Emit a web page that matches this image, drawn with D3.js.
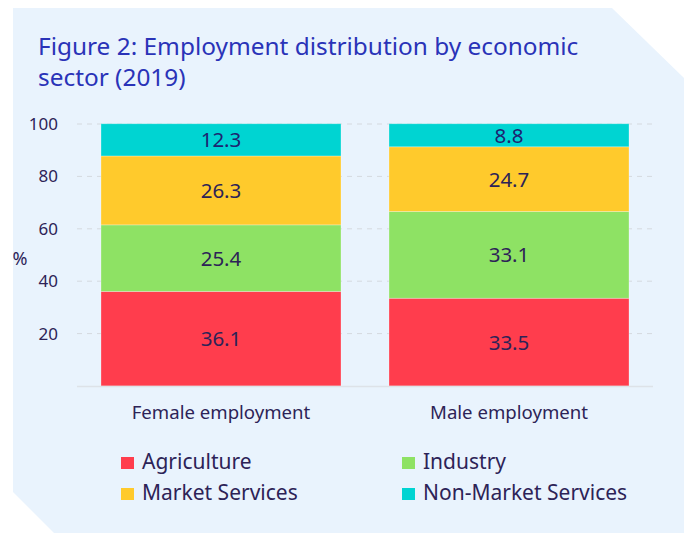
<!DOCTYPE html>
<html>
<head>
<meta charset="utf-8">
<script src="https://cdn.jsdelivr.net/npm/d3@7"></script>
<style>
  html, body { margin: 0; padding: 0; background: #fff; }
  svg { display: block; font-family: "Noto Sans", "Open Sans", sans-serif; }
</style>
</head>
<body>
<div id="chart"></div>
<script>
const groups = ["Female employment", "Male employment"];
const sectors = ["Agriculture", "Industry", "Market Services", "Non-Market Services"];
const agriculture = [36.1, 33.5];
const industry = [25.4, 33.1];
const marketServices = [26.3, 24.7];
const nonMarketServices = [12.3, 8.8];
const yTicks = [20, 40, 60, 80, 100];
const colors = ["#ff3d4d", "#8ee264", "#ffca2c", "#00d4d2"];

const W = 684, H = 533;
const svg = d3.select("#chart").append("svg").attr("width", W).attr("height", H);

// panel with cut corners
svg.append("path")
  .attr("d", `M13,8 L612,8 L684,78 L684,533 L54,533 L13,492 Z`)
  .attr("fill", "#e9f3fd");

svg.append("text").attr("x", 38).attr("y", 55)
  .attr("fill", "#2a33b8").attr("font-size", 24.4)
  .text("Figure 2: Employment distribution by economic");
svg.append("text").attr("x", 38).attr("y", 86)
  .attr("fill", "#2a33b8").attr("font-size", 24.4)
  .text("sector (2019)");

const m = { l: 77, r: 653, t: 124, b: 386 };
const x = d3.scaleBand().domain(groups).range([m.l, m.r])
  .paddingInner(1 / 6).paddingOuter(1 / 12);
const y = d3.scaleLinear().domain([0, 100]).range([m.b, m.t]);

// grid
svg.append("g").selectAll("line").data(yTicks).join("line")
  .attr("x1", m.l).attr("x2", m.r)
  .attr("y1", d => y(d)).attr("y2", d => y(d))
  .attr("stroke", "#d4d9df").attr("stroke-dasharray", "5,5").attr("stroke-width", 1);

svg.append("g").selectAll("text").data(yTicks).join("text")
  .attr("x", 58).attr("y", d => y(d) + 6)
  .attr("text-anchor", "end").attr("font-size", 17).attr("fill", "#2d2357")
  .text(d => d);

svg.append("text").attr("x", 20).attr("y", 265).attr("text-anchor", "middle")
  .attr("font-size", 18).attr("fill", "#2d2357").text("%");

const series = [agriculture, industry, marketServices, nonMarketServices];
const stacked = groups.map((g, i) => {
  let acc = 0;
  return series.map((s, k) => {
    const y0 = acc; acc += s[i];
    return { g, k, v: s[i], y0, y1: acc };
  });
});

svg.append("g").selectAll("g").data(stacked).join("g")
  .each(function (segs) {
    const gg = d3.select(this);
    gg.selectAll("rect").data(segs).join("rect")
      .attr("x", d => x(d.g)).attr("width", x.bandwidth())
      .attr("y", d => y(d.y1)).attr("height", d => y(d.y0) - y(d.y1))
      .attr("fill", d => colors[d.k])
      .attr("stroke", "#ffffff").attr("stroke-opacity", 0.35).attr("stroke-width", 0.8);
    gg.selectAll("text").data(segs).join("text")
      .attr("x", d => x(d.g) + x.bandwidth() / 2)
      .attr("y", d => (y(d.y0) + y(d.y1)) / 2 + 7.5)
      .attr("text-anchor", "middle").attr("font-size", 20.5)
      .attr("fill", d => d.k === 3 ? "#1d2470" : "#2d2357")
      .text(d => d.v.toFixed(1));
  });

// baseline
svg.append("line").attr("x1", m.l).attr("x2", m.r).attr("y1", m.b + 0.5).attr("y2", m.b + 0.5)
  .attr("stroke", "#dde2e8").attr("stroke-width", 1.5);

svg.append("g").selectAll("text").data(groups).join("text")
  .attr("x", d => x(d) + x.bandwidth() / 2).attr("y", 419)
  .attr("text-anchor", "middle").attr("font-size", 18.6).attr("fill", "#2d2357")
  .text(d => d);

// legend
const lx = [121, 402], ly = [457, 488];
const leg = svg.append("g").selectAll("g").data(sectors).join("g")
  .attr("transform", (d, i) => `translate(${lx[i % 2]},${ly[Math.floor(i / 2)]})`);
leg.append("rect").attr("x", 0).attr("y", 0).attr("width", 13).attr("height", 12)
  .attr("fill", (d, i) => colors[i]);
leg.append("text").attr("x", 21).attr("y", 12)
  .attr("font-size", 21).attr("fill", "#2d2357").text(d => d);
</script>
</body>
</html>
